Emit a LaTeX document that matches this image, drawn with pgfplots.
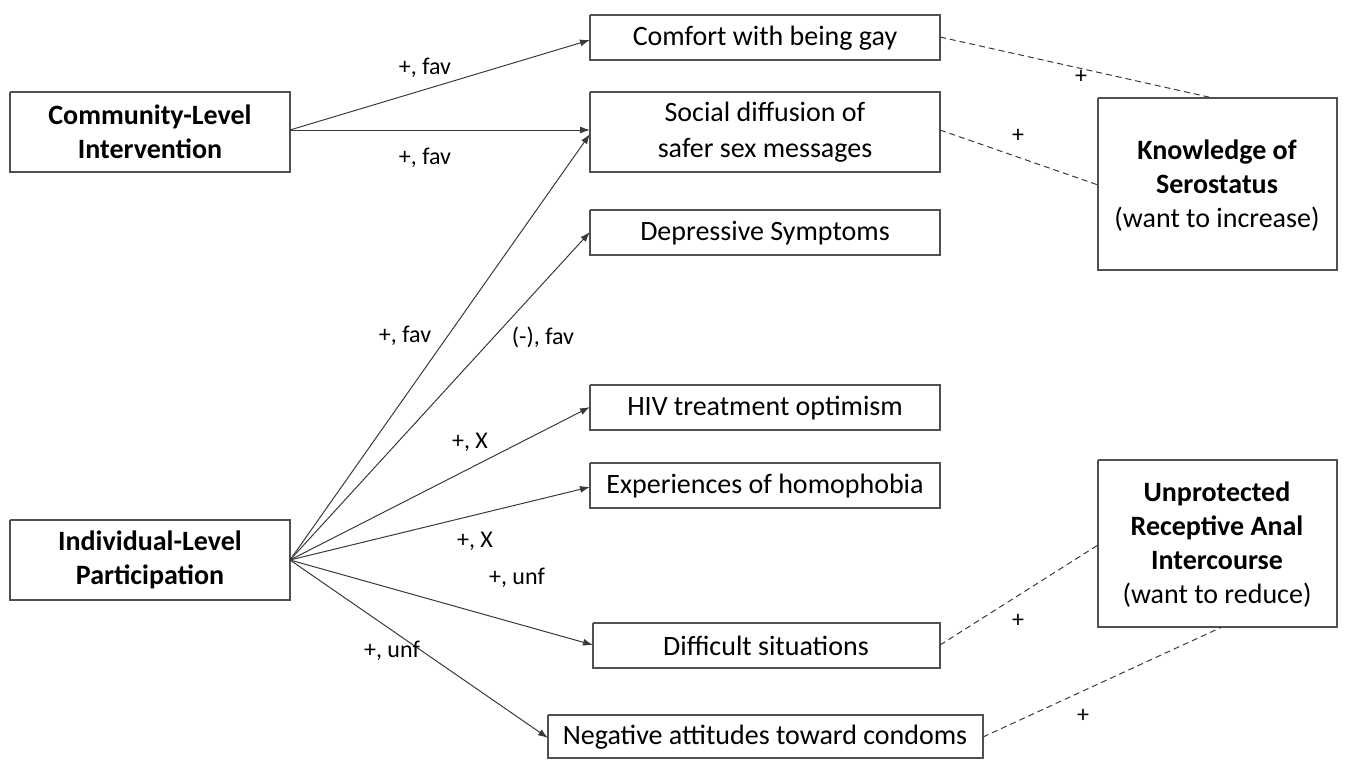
\documentclass[border=0pt]{standalone}
\usepackage{pgfplots}
\pgfplotsset{compat=1.18}
\usepackage{fontspec}
\setmainfont{Carlito}
\usetikzlibrary{arrows.meta}
\definecolor{ln}{HTML}{3A3A3A}
\definecolor{bx}{HTML}{505050}
\definecolor{tx}{HTML}{1A1A1A}
\begin{document}
\begin{tikzpicture}
\begin{axis}[
  width=678.5pt, height=380pt, scale only axis,
  xmin=0, xmax=1357, ymin=0, ymax=760, y dir=reverse,
  hide axis, clip=false,
  every axis plot/.append style={mark=none},
  every node/.append style={text=tx},
]
% frame (invisible, fixes the picture size)
\addplot[draw=none] coordinates {(0,0)(1357,760)};
% boxes
\addplot[bx, line width=0.9pt] coordinates {(10,92)(290,92)(290,172)(10,172)(10,92)};
\addplot[bx, line width=0.9pt] coordinates {(10,520)(290,520)(290,600)(10,600)(10,520)};
\addplot[bx, line width=0.9pt] coordinates {(590,15)(940,15)(940,60)(590,60)(590,15)};
\addplot[bx, line width=0.9pt] coordinates {(590,92)(940,92)(940,172)(590,172)(590,92)};
\addplot[bx, line width=0.9pt] coordinates {(590,210)(940,210)(940,255)(590,255)(590,210)};
\addplot[bx, line width=0.9pt] coordinates {(590,385)(940,385)(940,430)(590,430)(590,385)};
\addplot[bx, line width=0.9pt] coordinates {(590,463)(940,463)(940,508)(590,508)(590,463)};
\addplot[bx, line width=0.9pt] coordinates {(593,623)(940,623)(940,668)(593,668)(593,623)};
\addplot[bx, line width=0.9pt] coordinates {(548,715)(983,715)(983,758)(548,758)(548,715)};
\addplot[bx, line width=0.9pt] coordinates {(1098,98)(1337,98)(1337,270)(1098,270)(1098,98)};
\addplot[bx, line width=0.9pt] coordinates {(1098,460)(1337,460)(1337,627)(1098,627)(1098,460)};
% solid arrows
\addplot[ln, line width=0.5pt, -{Latex[length=5pt,width=3.5pt]}] coordinates {(290,130)(590,40)};
\addplot[ln, line width=0.5pt, -{Latex[length=5pt,width=3.5pt]}] coordinates {(290,130)(590,130)};
\addplot[ln, line width=0.5pt, -{Latex[length=5pt,width=3.5pt]}] coordinates {(290,560)(590,134)};
\addplot[ln, line width=0.5pt, -{Latex[length=5pt,width=3.5pt]}] coordinates {(290,560)(590,232)};
\addplot[ln, line width=0.5pt, -{Latex[length=5pt,width=3.5pt]}] coordinates {(290,560)(590,407)};
\addplot[ln, line width=0.5pt, -{Latex[length=5pt,width=3.5pt]}] coordinates {(290,560)(590,487)};
\addplot[ln, line width=0.5pt, -{Latex[length=5pt,width=3.5pt]}] coordinates {(290,560)(593,645)};
\addplot[ln, line width=0.5pt, -{Latex[length=5pt,width=3.5pt]}] coordinates {(290,560)(548,738)};
% dashed links
\addplot[ln, line width=0.5pt, densely dashed] coordinates {(940,37)(1213,98)};
\addplot[ln, line width=0.5pt, densely dashed] coordinates {(940,130)(1098,185)};
\addplot[ln, line width=0.5pt, densely dashed] coordinates {(940,645)(1098,545)};
\addplot[ln, line width=0.5pt, densely dashed] coordinates {(983,737)(1222,627)};
% box texts
\node[font=\fontsize{14}{17}\selectfont\bfseries, align=center] at (axis cs:150,132) {Community-Level\\Intervention};
\node[font=\fontsize{14}{17}\selectfont\bfseries, align=center] at (axis cs:150,560) {Individual-Level\\Participation};
\node[font=\fontsize{14}{17}\selectfont] at (axis cs:765,38) {Comfort with being gay};
\node[font=\fontsize{14}{18}\selectfont, align=center] at (axis cs:765,132) {Social diffusion of\\safer sex messages};
\node[font=\fontsize{14}{17}\selectfont] at (axis cs:765,233) {Depressive Symptoms};
\node[font=\fontsize{14}{17}\selectfont] at (axis cs:765,408) {HIV treatment optimism};
\node[font=\fontsize{14}{17}\selectfont] at (axis cs:765,486) {Experiences of homophobia};
\node[font=\fontsize{14}{17}\selectfont] at (axis cs:766,646) {Difficult situations};
\node[font=\fontsize{14}{17}\selectfont] at (axis cs:765,737) {Negative attitudes toward condoms};
\node[font=\fontsize{14}{17}\selectfont, align=center] at (axis cs:1217,186) {\textbf{Knowledge of}\\\textbf{Serostatus}\\(want to increase)};
\node[font=\fontsize{14}{17}\selectfont, align=center] at (axis cs:1217,545) {\textbf{Unprotected}\\\textbf{Receptive Anal}\\\textbf{Intercourse}\\(want to reduce)};
% edge labels
\node[font=\fontsize{12}{14}\selectfont] at (axis cs:425,68) {+, fav};
\node[font=\fontsize{12}{14}\selectfont] at (axis cs:425,158) {+, fav};
\node[font=\fontsize{12}{14}\selectfont] at (axis cs:405,336) {+, fav};
\node[font=\fontsize{12}{14}\selectfont] at (axis cs:543,337) {(-), fav};
\node[font=\fontsize{12}{14}\selectfont] at (axis cs:470,442) {+, X};
\node[font=\fontsize{12}{14}\selectfont] at (axis cs:475,541) {+, X};
\node[font=\fontsize{12}{14}\selectfont] at (axis cs:517,578) {+, unf};
\node[font=\fontsize{12}{14}\selectfont] at (axis cs:392,651) {+, unf};
\node[font=\fontsize{12}{14}\selectfont] at (axis cs:1081,77) {+};
\node[font=\fontsize{12}{14}\selectfont] at (axis cs:1018,136) {+};
\node[font=\fontsize{12}{14}\selectfont] at (axis cs:1018,621) {+};
\node[font=\fontsize{12}{14}\selectfont] at (axis cs:1083,716) {+};
\end{axis}
\end{tikzpicture}
\end{document}
